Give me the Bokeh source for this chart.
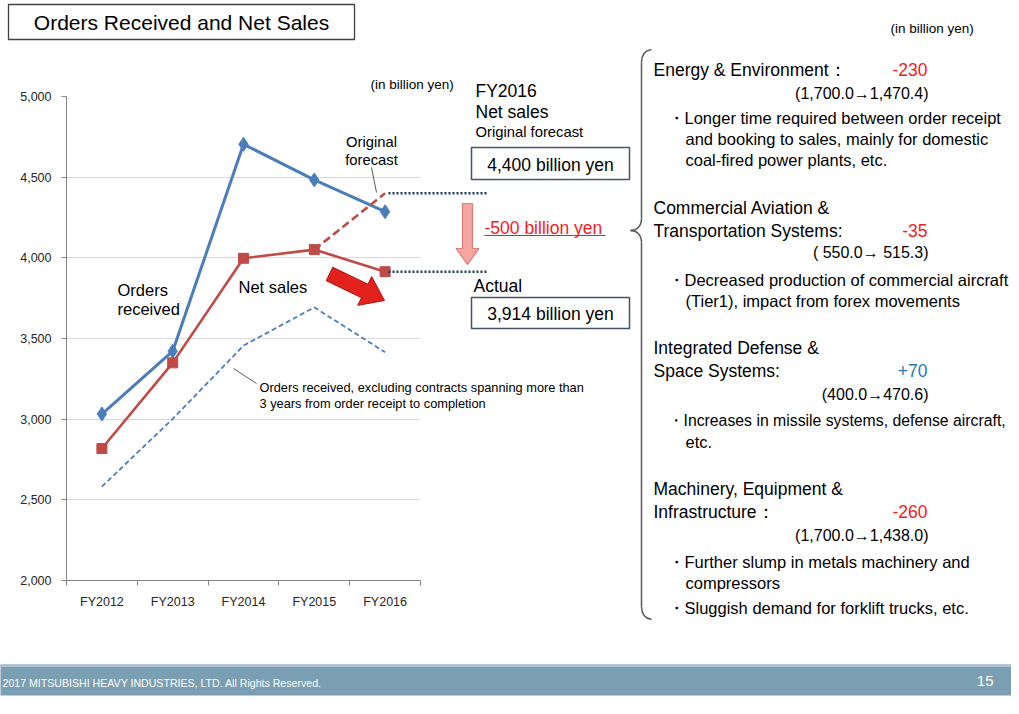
import numpy as np
from bokeh.plotting import figure
from bokeh.models import Range1d, FixedTicker, NumeralTickFormatter
from bokeh.core.properties import value
from bokeh.embed import file_html
from bokeh.resources import INLINE

# ---------------- data ----------------
years = ["FY2012", "FY2013", "FY2014", "FY2015", "FY2016"]
orders_received = [3032, 3421, 4704, 4483, 4286]
net_sales = [2818, 3349, 3997, 4051, 3914]
orders_excl_long = [2582, 3002, 3456, 3693, 3415]
forecast_fy2016 = 4400
actual_fy2016 = 3914
y_ticks = [2000, 2500, 3000, 3500, 4000, 4500, 5000]

segments = ["Energy & Environment", "Commercial Aviation & Transportation Systems",
            "Integrated Defense & Space Systems", "Machinery, Equipment & Infrastructure"]
seg_change = ["-230", "-35", "+70", "-260"]
seg_from_to = ["(1,700.0\u21921,470.4)", "( 550.0\u2192 515.3)", "(400.0\u2192470.6)", "(1,700.0\u21921,438.0)"]

xs = list(range(1, len(years) + 1))

BLUE = "#4A7EBB"
RED = "#BE4B48"
NAVY = "#1F3A60"
FONT = "Liberation Sans"

p = figure(x_range=Range1d(0.5, len(years) + 0.5), y_range=Range1d(2000, 5000),
           frame_width=354, frame_height=484,
           min_border_left=66, min_border_right=591, min_border_top=96, min_border_bottom=126,
           output_backend="svg", toolbar_location=None,
           background_fill_color="white", border_fill_color="white", outline_line_color=None)

# helper ranges in slide pixel coordinates (for annotations around the chart)
p.extra_x_ranges = {"px": Range1d(66, 420)}
p.extra_y_ranges = {"py": Range1d(580, 96)}

# ---------------- axes ----------------
p.xaxis.ticker = FixedTicker(ticks=xs, minor_ticks=[i + 0.5 for i in range(0, len(years) + 1)])
p.xaxis.major_label_overrides = {x: y for x, y in zip(xs, years)}
p.xaxis.major_tick_line_color = None
p.xaxis.minor_tick_in = 0
p.xaxis.minor_tick_out = 5
p.xaxis.minor_tick_line_color = "#868686"
p.xaxis.axis_line_color = "#868686"
p.xaxis.major_label_text_font = FONT
p.xaxis.major_label_text_font_size = "12.5px"
p.xaxis.major_label_text_color = "#262626"
p.xaxis.major_label_standoff = 8

p.yaxis.ticker = FixedTicker(ticks=y_ticks)
p.yaxis.formatter = NumeralTickFormatter(format="0,0")
p.yaxis.major_tick_in = 0
p.yaxis.major_tick_out = 5
p.yaxis.minor_tick_line_color = None
p.yaxis.major_tick_line_color = "#868686"
p.yaxis.axis_line_color = "#868686"
p.yaxis.major_label_text_font = FONT
p.yaxis.major_label_text_font_size = "12.5px"
p.yaxis.major_label_text_color = "#262626"
p.yaxis.major_label_standoff = 10

p.xgrid.grid_line_color = None
p.ygrid.ticker = FixedTicker(ticks=y_ticks)
p.ygrid.grid_line_color = "#D9D9D9"

# ---------------- series ----------------
p.line(xs, orders_excl_long, line_color=BLUE, line_width=1.8, line_dash="5 3")
p.line(xs, orders_received, line_color=BLUE, line_width=3)
p.scatter(xs, orders_received, marker="diamond", size=14, fill_color=BLUE, line_color=BLUE)
p.line(xs, net_sales, line_color=RED, line_width=2.6)
p.scatter(xs, net_sales, marker="square", size=10, fill_color=RED, line_color=RED)
p.line(xs[-2:], [net_sales[-2], forecast_fy2016], line_color=RED, line_width=2.6, line_dash="8 4")

# dotted guides from FY2016 values to the right
for v in (forecast_fy2016, actual_fy2016):
    p.line([388, 487], [v, v], x_range_name="px", line_color=NAVY, line_width=2.5,
           line_dash="2 2", level="overlay")


def txt(x, y, s, size=16, color="#000000", align="left", font=FONT):
    p.text(x=[x], y=[y], text=[s], x_range_name="px", y_range_name="py",
           text_font=value(font), text_font_size=f"{size}px", text_color=color,
           text_align=align, text_baseline="middle", level="overlay")


def box(l, r, t, b, line_color="#44546A", lw=1.5, fill="white"):
    p.quad(left=[l], right=[r], top=[t], bottom=[b], x_range_name="px", y_range_name="py",
           fill_color=fill, line_color=line_color, line_width=lw, level="overlay")


def pline(x, y, color="#595959", lw=1.0):
    p.line(x, y, x_range_name="px", y_range_name="py", line_color=color, line_width=lw, level="overlay")


# ---------------- title ----------------
box(8, 354, 4, 39, line_color="#404040", lw=1.3)
txt(181, 21.5, "Orders Received and Net Sales", size=21, align="center")

# ---------------- chart annotations ----------------
txt(370, 84, "(in billion yen)", size=13.5)
txt(371, 141.5, "Original", size=14.8, align="center")
txt(371, 159, "forecast", size=14.8, align="center")
pline([371, 376], [167, 192])
txt(117, 289, "Orders", size=16.5)
txt(117, 308, "received", size=16.5)
txt(238, 286, "Net sales", size=16.5)
pline([233, 256], [368, 383])
txt(259, 387, "Orders received, excluding contracts spanning more than", size=12.8)
txt(259, 403, "3 years from order receipt to completion", size=12.8)

# red block arrow
tail = np.array([329.0, 273.5])
tip = np.array([384.0, 300.0])
u = (tip - tail) / np.linalg.norm(tip - tail)
n = np.array([-u[1], u[0]])
head = tip - u * 22
pts = [tail - n * 7.5, head - n * 7.5, head - n * 16, tip, head + n * 16, head + n * 7.5, tail + n * 7.5]
p.patch([q[0] for q in pts], [q[1] for q in pts], x_range_name="px", y_range_name="py",
        fill_color="#E3211C", line_color="#A8171A", line_width=1, level="overlay")

# pink down arrow
cx = 467.0
ax_ = [cx - 5, cx + 5, cx + 5, cx + 11.5, cx, cx - 11.5, cx - 5]
ay_ = [203, 203, 248, 248, 264, 248, 248]
p.patch(ax_, ay_, x_range_name="px", y_range_name="py",
        fill_color="#F5A6A1", line_color="#DE7C75", line_width=1.2, level="overlay")

# FY2016 boxes
txt(475, 90, "FY2016", size=17.5)
txt(475, 111, "Net sales", size=17.5)
txt(475, 131, "Original forecast", size=14.8)
box(471, 629, 147, 179)
txt(550, 164, "4,400 billion yen", size=17.5, align="center")
txt(484, 227, "-500 billion yen", size=17.5, color="#F31C1C")
pline([484, 605], [235, 235], color="#F31C1C", lw=1.2)
txt(473, 285, "Actual", size=17.5)
box(471, 629, 297, 328)
txt(550, 313, "3,914 billion yen", size=17.5, align="center")

# ---------------- right panel ----------------
txt(890, 28, "(in billion yen)", size=13.5)

# brace
p.bezier(x0=[651, 641, 630, 641], y0=[49, 218, 230, 606],
         x1=[641, 630, 641, 651], y1=[62, 230, 242, 619],
         cx0=[645, 641, 636, 641], cy0=[50, 226, 230, 614],
         cx1=[641, 636, 641, 645], cy1=[54, 230, 234, 618],
         x_range_name="px", y_range_name="py", line_color="#595959", line_width=1.5, level="overlay")
p.segment(x0=[641, 641], y0=[62, 242], x1=[641, 641], y1=[218, 606],
          x_range_name="px", y_range_name="py", line_color="#595959", line_width=1.5, level="overlay")

HS = 17.5
BS = 16.5
RED_T = "#F31C1C"
BLUE_T = "#2E75B6"
chg_colors = [RED_T if c.startswith("-") else BLUE_T for c in seg_change]

# Energy & Environment
txt(653, 69, "Energy & Environment\uff1a", size=HS)
txt(927, 69, seg_change[0], size=HS, color=chg_colors[0], align="right")
txt(928, 93, seg_from_to[0], size=16, align="right")
txt(667, 117, "\u30fbLonger time required between order receipt", size=BS)
txt(685, 138, "and booking to sales, mainly for domestic", size=BS)
txt(685, 159, "coal-fired power plants, etc.", size=BS)

# Commercial Aviation
txt(653, 207, "Commercial Aviation &", size=HS)
txt(653, 230, "Transportation Systems:", size=HS)
txt(927, 230, seg_change[1], size=HS, color=chg_colors[1], align="right")
txt(928, 252, seg_from_to[1], size=16, align="right")
txt(667, 279, "\u30fbDecreased production of commercial aircraft", size=BS)
txt(685, 300, "(Tier1), impact from forex movements", size=BS)

# Integrated Defense
txt(653, 347, "Integrated Defense &", size=HS)
txt(653, 370, "Space Systems:", size=HS)
txt(927, 370, seg_change[2], size=HS, color=chg_colors[2], align="right")
txt(928, 394, seg_from_to[2], size=16, align="right")
txt(667, 420, "\u30fbIncreases in missile systems, defense aircraft,", size=15.8)
txt(685, 441, "etc.", size=BS)

# Machinery
txt(653, 488, "Machinery, Equipment &", size=HS)
txt(653, 511, "Infrastructure\uff1a", size=HS)
txt(927, 511, seg_change[3], size=HS, color=chg_colors[3], align="right")
txt(928, 535, seg_from_to[3], size=16, align="right")
txt(667, 561, "\u30fbFurther slump in metals machinery and", size=BS)
txt(685, 582, "compressors", size=BS)
txt(667, 607, "\u30fbSluggish demand for forklift trucks,  etc.", size=BS)

# ---------------- footer ----------------
box(0, 1011, 664, 695, line_color=None, lw=0, fill="#7A9EB2")
box(0, 1011, 664, 666.5, line_color=None, lw=0, fill="#A9C2CF")
txt(2, 682, "2017 MITSUBISHI HEAVY INDUSTRIES, LTD.  All Rights Reserved.", size=10.6, color="white")
txt(993, 680, "15", size=15, color="white", align="right")

open("out.html", "w").write(file_html(p, INLINE))
